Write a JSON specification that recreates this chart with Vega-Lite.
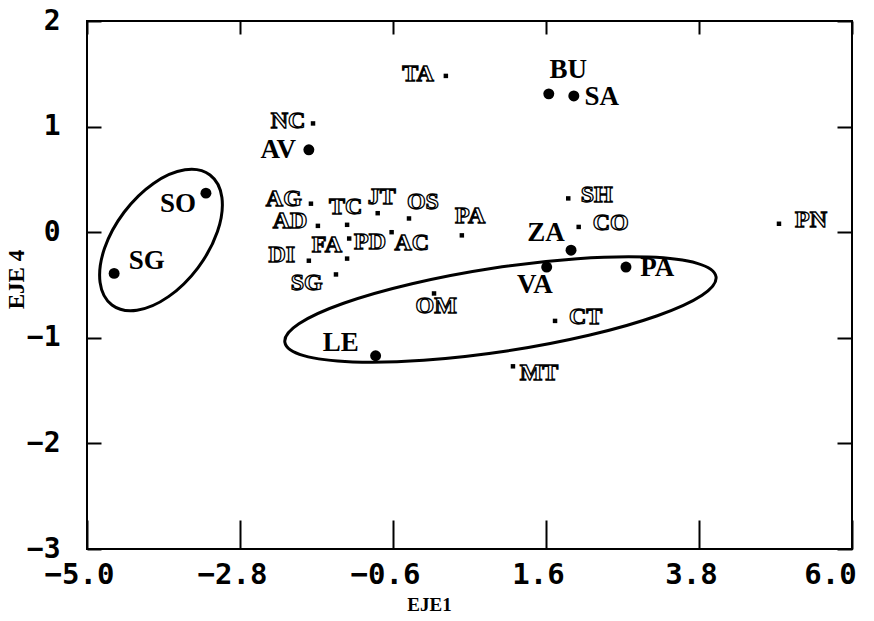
{
  "$schema": "https://vega.github.io/schema/vega-lite/v6.json",
  "width": 765,
  "height": 528,
  "autosize": "none",
  "padding": {"left": 87, "top": 21, "right": 22, "bottom": 72},
  "background": "white",
  "config": {
    "view": {"stroke": "black", "strokeWidth": 2},
    "axis": {"grid": false, "domain": false, "ticks": true, "tickColor": "black", "tickOpacity": 1, "tickWidth": 2, "labelColor": "black", "titleColor": "black", "zindex": 1}
  },
  "datasets": {
    "pts": [
      {"name": "SG", "kind": "big", "x": -4.61, "y": -0.39, "lx": -4.14, "ly": -0.27},
      {"name": "SO", "kind": "big", "x": -3.29, "y": 0.37, "lx": -3.69, "ly": 0.27},
      {"name": "AV", "kind": "big", "x": -1.81, "y": 0.78, "lx": -2.25, "ly": 0.78},
      {"name": "BU", "kind": "big", "x": 1.64, "y": 1.31, "lx": 1.92, "ly": 1.54},
      {"name": "SA", "kind": "big", "x": 2.0, "y": 1.29, "lx": 2.40, "ly": 1.28},
      {"name": "ZA", "kind": "big", "x": 1.96, "y": -0.17, "lx": 1.60, "ly": -0.01},
      {"name": "VA", "kind": "big", "x": 1.61, "y": -0.33, "lx": 1.44, "ly": -0.50},
      {"name": "PA", "kind": "big", "x": 2.75, "y": -0.33, "lx": 3.20, "ly": -0.34},
      {"name": "LE", "kind": "big", "x": -0.85, "y": -1.17, "lx": -1.35, "ly": -1.05},
      {"name": "TA", "kind": "small", "x": 0.16, "y": 1.48, "lx": -0.24, "ly": 1.50},
      {"name": "NC", "kind": "small", "x": -1.75, "y": 1.03, "lx": -2.11, "ly": 1.05},
      {"name": "AG", "kind": "small", "x": -1.78, "y": 0.27, "lx": -2.17, "ly": 0.31},
      {"name": "AD", "kind": "small", "x": -1.68, "y": 0.06, "lx": -2.08, "ly": 0.11},
      {"name": "DI", "kind": "small", "x": -1.81, "y": -0.27, "lx": -2.20, "ly": -0.22},
      {"name": "SG", "kind": "small", "x": -1.42, "y": -0.40, "lx": -1.84, "ly": -0.48},
      {"name": "TC", "kind": "small", "x": -1.26, "y": 0.07, "lx": -1.28, "ly": 0.24},
      {"name": "JT", "kind": "small", "x": -0.82, "y": 0.18, "lx": -0.76, "ly": 0.33},
      {"name": "OS", "kind": "small", "x": -0.37, "y": 0.13, "lx": -0.17, "ly": 0.29},
      {"name": "PA", "kind": "small", "x": 0.39, "y": -0.03, "lx": 0.51, "ly": 0.15},
      {"name": "FA", "kind": "small", "x": -1.26, "y": -0.25, "lx": -1.55, "ly": -0.12},
      {"name": "PD", "kind": "small", "x": -1.23, "y": -0.06, "lx": -0.93, "ly": -0.09},
      {"name": "AC", "kind": "small", "x": -0.62, "y": 0.00, "lx": -0.33, "ly": -0.10},
      {"name": "OM", "kind": "small", "x": -0.01, "y": -0.58, "lx": 0.02, "ly": -0.70},
      {"name": "SH", "kind": "small", "x": 1.92, "y": 0.32, "lx": 2.33, "ly": 0.35},
      {"name": "CO", "kind": "small", "x": 2.07, "y": 0.05, "lx": 2.53, "ly": 0.09},
      {"name": "PN", "kind": "small", "x": 4.95, "y": 0.08, "lx": 5.41, "ly": 0.12},
      {"name": "CT", "kind": "small", "x": 1.73, "y": -0.84, "lx": 2.17, "ly": -0.80},
      {"name": "MT", "kind": "small", "x": 1.125, "y": -1.27, "lx": 1.50, "ly": -1.33}
    ],
    "ell": [
      {"g": "A", "o": 0, "x": -3.231, "y": 0.542},
      {"g": "A", "o": 1, "x": -3.060, "y": 0.328},
      {"g": "A", "o": 2, "x": -3.124, "y": 0.006},
      {"g": "A", "o": 3, "x": -3.405, "y": -0.337},
      {"g": "A", "o": 4, "x": -3.828, "y": -0.610},
      {"g": "A", "o": 5, "x": -4.281, "y": -0.739},
      {"g": "A", "o": 6, "x": -4.641, "y": -0.689},
      {"g": "A", "o": 7, "x": -4.812, "y": -0.475},
      {"g": "A", "o": 8, "x": -4.748, "y": -0.153},
      {"g": "A", "o": 9, "x": -4.467, "y": 0.189},
      {"g": "A", "o": 10, "x": -4.044, "y": 0.462},
      {"g": "A", "o": 11, "x": -3.591, "y": 0.591},
      {"g": "B", "o": 0, "x": 4.045, "y": -0.422},
      {"g": "B", "o": 1, "x": 3.844, "y": -0.597},
      {"g": "B", "o": 2, "x": 3.201, "y": -0.791},
      {"g": "B", "o": 3, "x": 2.216, "y": -0.976},
      {"g": "B", "o": 4, "x": 1.036, "y": -1.125},
      {"g": "B", "o": 5, "x": -0.159, "y": -1.213},
      {"g": "B", "o": 6, "x": -1.181, "y": -1.228},
      {"g": "B", "o": 7, "x": -1.884, "y": -1.169},
      {"g": "B", "o": 8, "x": -2.155, "y": -1.042},
      {"g": "B", "o": 9, "x": -1.953, "y": -0.867},
      {"g": "B", "o": 10, "x": -1.311, "y": -0.673},
      {"g": "B", "o": 11, "x": -0.326, "y": -0.488},
      {"g": "B", "o": 12, "x": 0.855, "y": -0.339},
      {"g": "B", "o": 13, "x": 2.050, "y": -0.251},
      {"g": "B", "o": 14, "x": 3.072, "y": -0.236},
      {"g": "B", "o": 15, "x": 3.775, "y": -0.295}
    ]
  },
  "resolve": {"axis": {"x": "independent", "y": "independent"}},
  "layer": [
    {
      "data": {"name": "ell"},
      "mark": {"type": "line", "interpolate": "cardinal-closed", "color": "black", "strokeWidth": 3, "clip": true},
      "encoding": {
        "x": {"field": "x", "type": "quantitative", "scale": {"domain": [-5, 6], "nice": false, "zero": false},
          "axis": {"orient": "bottom", "values": [-5, -2.8, -0.6, 1.6, 3.8, 6], "format": ".1f", "tickSize": -29,
            "labelFont": "DejaVu Sans Mono", "labelFontWeight": "bold", "labelFontSize": 29, "labelPadding": 40,
            "labelOffset": {"condition": {"test": "datum.value == 6", "value": -22}, "value": -8},
            "labelFlush": false, "labelOverlap": false,
            "title": "EJE1", "titleFont": "Liberation Serif", "titleFontWeight": "bold", "titleFontSize": 19,
            "titleX": 342, "titleY": 55, "titleBaseline": "middle", "titleAlign": "center", "titleAnchor": null}},
        "y": {"field": "y", "type": "quantitative", "scale": {"domain": [-3, 2], "nice": false, "zero": false},
          "axis": {"orient": "left", "values": [-3, -2, -1, 0, 1, 2], "format": "d", "tickSize": -14,
            "labelFont": "DejaVu Sans Mono", "labelFontWeight": "bold", "labelFontSize": 28, "labelPadding": 41,
            "labelFlush": false, "labelOverlap": false,
            "title": "EJE 4", "titleFont": "Liberation Serif", "titleFontWeight": "bold", "titleFontSize": 23,
            "titleX": -71, "titleY": 258, "titleBaseline": "middle", "titleAlign": "center", "titleAngle": -90, "titleAnchor": null}},
        "detail": {"field": "g"},
        "order": {"field": "o", "type": "quantitative"}
      }
    },
    {
      "data": {"name": "pts"},
      "transform": [{"filter": "datum.kind == 'big'"}],
      "mark": {"type": "point", "shape": "circle", "filled": true, "color": "black", "size": 120, "opacity": 1},
      "encoding": {
        "x": {"field": "x", "type": "quantitative",
          "axis": {"orient": "top", "values": [-5, -2.8, -0.6, 1.6, 3.8, 6], "labels": false, "title": null, "tickSize": -13}},
        "y": {"field": "y", "type": "quantitative",
          "axis": {"orient": "right", "values": [-3, -2, -1, 0, 1, 2], "labels": false, "title": null, "tickSize": -15}}
      }
    },
    {
      "data": {"name": "pts"},
      "transform": [{"filter": "datum.kind == 'small'"}],
      "mark": {"type": "point", "shape": "square", "filled": true, "color": "black", "size": 20, "opacity": 1},
      "encoding": {
        "x": {"field": "x", "type": "quantitative", "axis": null},
        "y": {"field": "y", "type": "quantitative", "axis": null}
      }
    },
    {
      "data": {"name": "pts"},
      "transform": [{"filter": "datum.kind == 'big'"}],
      "mark": {"type": "text", "font": "Liberation Serif", "fontWeight": "bold", "fontSize": 27, "color": "black", "align": "center", "baseline": "middle"},
      "encoding": {
        "x": {"field": "lx", "type": "quantitative", "axis": null},
        "y": {"field": "ly", "type": "quantitative", "axis": null},
        "text": {"field": "name"}
      }
    },
    {
      "data": {"name": "pts"},
      "transform": [{"filter": "datum.kind == 'small'"}],
      "mark": {"type": "text", "font": "Liberation Serif", "fontWeight": "bold", "fontSize": 24, "fill": "white", "stroke": "black", "strokeWidth": 1.3, "align": "center", "baseline": "middle"},
      "encoding": {
        "x": {"field": "lx", "type": "quantitative", "axis": null},
        "y": {"field": "ly", "type": "quantitative", "axis": null},
        "text": {"field": "name"}
      }
    }
  ]
}
